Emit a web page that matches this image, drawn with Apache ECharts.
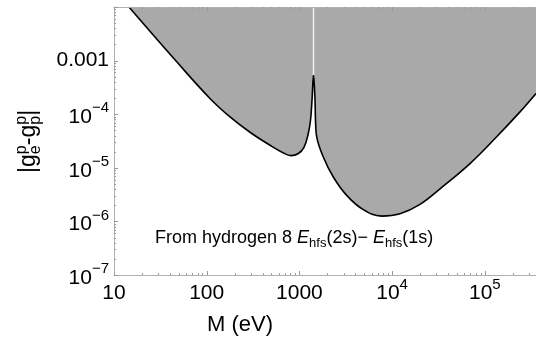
<!DOCTYPE html>
<html>
<head>
<meta charset="utf-8">
<script src="https://cdn.jsdelivr.net/npm/echarts@6/dist/echarts.min.js"></script>
<style>html,body{margin:0;padding:0;background:#fff}#c{width:536px;height:342px}</style>
</head>
<body>
<div id="c"></div>
<script>
// Boundary curve (M in eV, |g_e^p g_p^p|)
const massEV = [14.5, 47.5, 108.5, 178.4, 293.2, 481.7, 665.4, 811.8, 965.8, 1121, 1247, 1317.6, 1367.6, 1419.6, 1473.5, 1492, 1537, 1810, 2321, 3237, 4891, 7724, 12167, 20000, 32860, 69240, 128800, 239700, 356700];
const coupling = [1.0e-2, 9.50e-4, 1.966e-4, 8.90e-5, 4.61e-5, 2.634e-5, 1.908e-5, 1.690e-5, 1.827e-5, 2.416e-5, 4.357e-5, 7.72e-5, 1.827e-4, 5.36e-4, 1.827e-4, 7.72e-5, 3.764e-5, 1.591e-5, 6.73e-6, 3.06e-6, 1.655e-6, 1.256e-6, 1.393e-6, 2.078e-6, 4.05e-6, 1.198e-5, 3.513e-5, 1.104e-4, 2.437e-4];
// spike gap (white line from the cusp to the top)
const spikeMass = [1419.6, 1419.6];
const spikeVal = [5.36e-4, 1.0e-2];

const xMajor = [10, 100, 1000, 1e4, 1e5];
const xMinor = [20,30,40,50,60,70,80,90,200,300,400,500,600,700,800,900,2000,3000,4000,5000,6000,7000,8000,9000,2e4,3e4,4e4,5e4,6e4,7e4,8e4,9e4,2e5,3e5];
const yMajor = [1e-7, 1e-6, 1e-5, 1e-4, 1e-3, 1e-2];
const yMinor = [2e-7,3e-7,4e-7,5e-7,6e-7,7e-7,8e-7,9e-7,2e-6,3e-6,4e-6,5e-6,6e-6,7e-6,8e-6,9e-6,2e-5,3e-5,4e-5,5e-5,6e-5,7e-5,8e-5,9e-5,2e-4,3e-4,4e-4,5e-4,6e-4,7e-4,8e-4,9e-4,2e-3,3e-3,4e-3,5e-3,6e-3,7e-3,8e-3,9e-3];
const yLabelVals = [1e-7, 1e-6, 1e-5, 1e-4, 1e-3];

const xMin = 10, xMax = 365700, yMin = 1e-7, yMax = 1e-2;
const FONT = 'Liberation Sans, Arial, sans-serif';
const tickCol = '#9a9a9a';

const chart = echarts.init(document.getElementById('c'), null, {renderer: 'canvas'});

const supRich = {
  b: {fontSize: 21, fontFamily: FONT, color: '#000', verticalAlign: 'bottom'},
  p: {fontSize: 21, fontFamily: FONT, color: '#000', verticalAlign: 'middle'},
  sup: {fontSize: 15, fontFamily: FONT, color: '#000', verticalAlign: 'top'}
};
function xFmt(v) {
  const e = Math.round(Math.log10(v));
  if (e <= 3) return '{b|' + Math.pow(10, e) + '}';
  return '{b|10}{sup|' + e + '}';
}
function yFmt(v) {
  const e = Math.round(Math.log10(v));
  if (e === -3) return '{p|0.001}';
  return '{b|10}{sup|\u2212' + (-e) + '}';
}
const axLine = {show: true, onZero: false, lineStyle: {color: '#b0b0b0', width: 1}};

function tickSeries(values, len, dir) {
  return {
    type: 'custom', xAxisIndex: 0, yAxisIndex: 0, z: 6, silent: true, clip: false,
    data: values.map(v => dir === 'x' ? [v, yMin] : [xMin, v]),
    renderItem: function (params, api) {
      const st = {stroke: tickCol, lineWidth: 1};
      if (dir === 'x') {
        const v = api.value(0);
        const pb = api.coord([v, yMin]);
        const pt = api.coord([v, yMax]);
        const x = Math.round(pb[0]) + 0.5;
        return {type: 'group', children: [
          {type: 'line', shape: {x1: x, y1: pb[1], x2: x, y2: pb[1] - len}, style: st},
          {type: 'line', shape: {x1: x, y1: pt[1], x2: x, y2: pt[1] + len}, style: st}
        ]};
      } else {
        const v = api.value(1);
        const p = api.coord([xMin, v]);
        const y = Math.round(p[1]) + 0.5;
        return {type: 'line', shape: {x1: p[0], y1: y, x2: p[0] + len, y2: y}, style: st};
      }
    }
  };
}

const option = {
  animation: false,
  backgroundColor: '#fff',
  grid: {left: 114, top: 7, right: -1, bottom: 67, containLabel: false, outerBoundsMode: 'none'},
  xAxis: [
    {type: 'log', min: xMin, max: xMax, position: 'bottom', z: 5,
     axisLine: axLine, axisTick: {show: false},
     axisLabel: {show: true, customValues: xMajor, formatter: xFmt, rich: supRich, lineHeight: 27, margin: 2},
     splitLine: {show: false}},
    {type: 'log', min: xMin, max: xMax, position: 'top', z: 5,
     axisLine: axLine, axisTick: {show: false}, axisLabel: {show: false}, splitLine: {show: false}}
  ],
  yAxis: [
    {type: 'log', min: yMin, max: yMax, position: 'left', z: 5,
     axisLine: axLine, axisTick: {show: false},
     axisLabel: {show: true, customValues: yLabelVals, formatter: yFmt, rich: supRich, lineHeight: 27, margin: 5},
     splitLine: {show: false}}
  ],
  series: [
    {
      type: 'line', xAxisIndex: 0, yAxisIndex: 0,
      data: massEV.map((m, i) => [m, coupling[i]]),
      showSymbol: false, symbol: 'none', smooth: 0.4,
      lineStyle: {color: '#000', width: 1.6},
      areaStyle: {color: '#a9a9a9', opacity: 1, origin: 'end'},
      z: 2
    },
    {
      type: 'line', xAxisIndex: 0, yAxisIndex: 0,
      data: spikeMass.map((m, i) => [m, spikeVal[i]]),
      showSymbol: false, symbol: 'none',
      lineStyle: {color: '#f0f0f0', width: 1.5},
      z: 3
    },
    tickSeries(xMajor, 4, 'x'),
    tickSeries(xMinor, 2, 'x'),
    tickSeries(yMajor, 4, 'y'),
    tickSeries(yMinor, 2, 'y')
  ],
  graphic: [
    {
      type: 'text', x: 155, y: 226,
      style: {
        text: 'From hydrogen 8 {it|E}{sub|hfs}(2s)\u2212 {it|E}{sub|hfs}(1s)',
        fontSize: 18, fontFamily: FONT, fill: '#000', verticalAlign: 'top', lineHeight: 24,
        rich: {
          it: {fontSize: 18, fontStyle: 'italic', fontFamily: FONT, fill: '#000', lineHeight: 24},
          sub: {fontSize: 13, fontFamily: FONT, fill: '#000', lineHeight: 13, verticalAlign: 'bottom'}
        }
      },
      z: 10
    },
    {
      type: 'text', x: 240, y: 325,
      style: {text: 'M (eV)', fontSize: 22, fontFamily: FONT, fill: '#000', align: 'center', verticalAlign: 'middle'},
      z: 10
    },
    {
      type: 'group', x: 29, y: 173, rotation: Math.PI / 2, z: 10,
      children: [
        {type: 'text', x: 0, y: 0, style: {text: '|g', fontSize: 23, fontFamily: FONT, fill: '#000', verticalAlign: 'middle'}},
        {type: 'text', x: 18.8, y: -7, style: {text: 'p', fontSize: 16, fontFamily: FONT, fill: '#000', verticalAlign: 'middle'}},
        {type: 'text', x: 18.8, y: 7, style: {text: 'e', fontSize: 16, fontFamily: FONT, fill: '#000', verticalAlign: 'middle'}},
        {type: 'text', x: 27.8, y: 0, style: {text: '-g', fontSize: 23, fontFamily: FONT, fill: '#000', verticalAlign: 'middle'}},
        {type: 'text', x: 48.3, y: -7, style: {text: 'p', fontSize: 16, fontFamily: FONT, fill: '#000', verticalAlign: 'middle'}},
        {type: 'text', x: 48.3, y: 7, style: {text: 'p', fontSize: 16, fontFamily: FONT, fill: '#000', verticalAlign: 'middle'}},
        {type: 'text', x: 57.3, y: 0, style: {text: '|', fontSize: 23, fontFamily: FONT, fill: '#000', verticalAlign: 'middle'}}
      ]
    }
  ]
};
chart.setOption(option);
</script>
</body>
</html>
